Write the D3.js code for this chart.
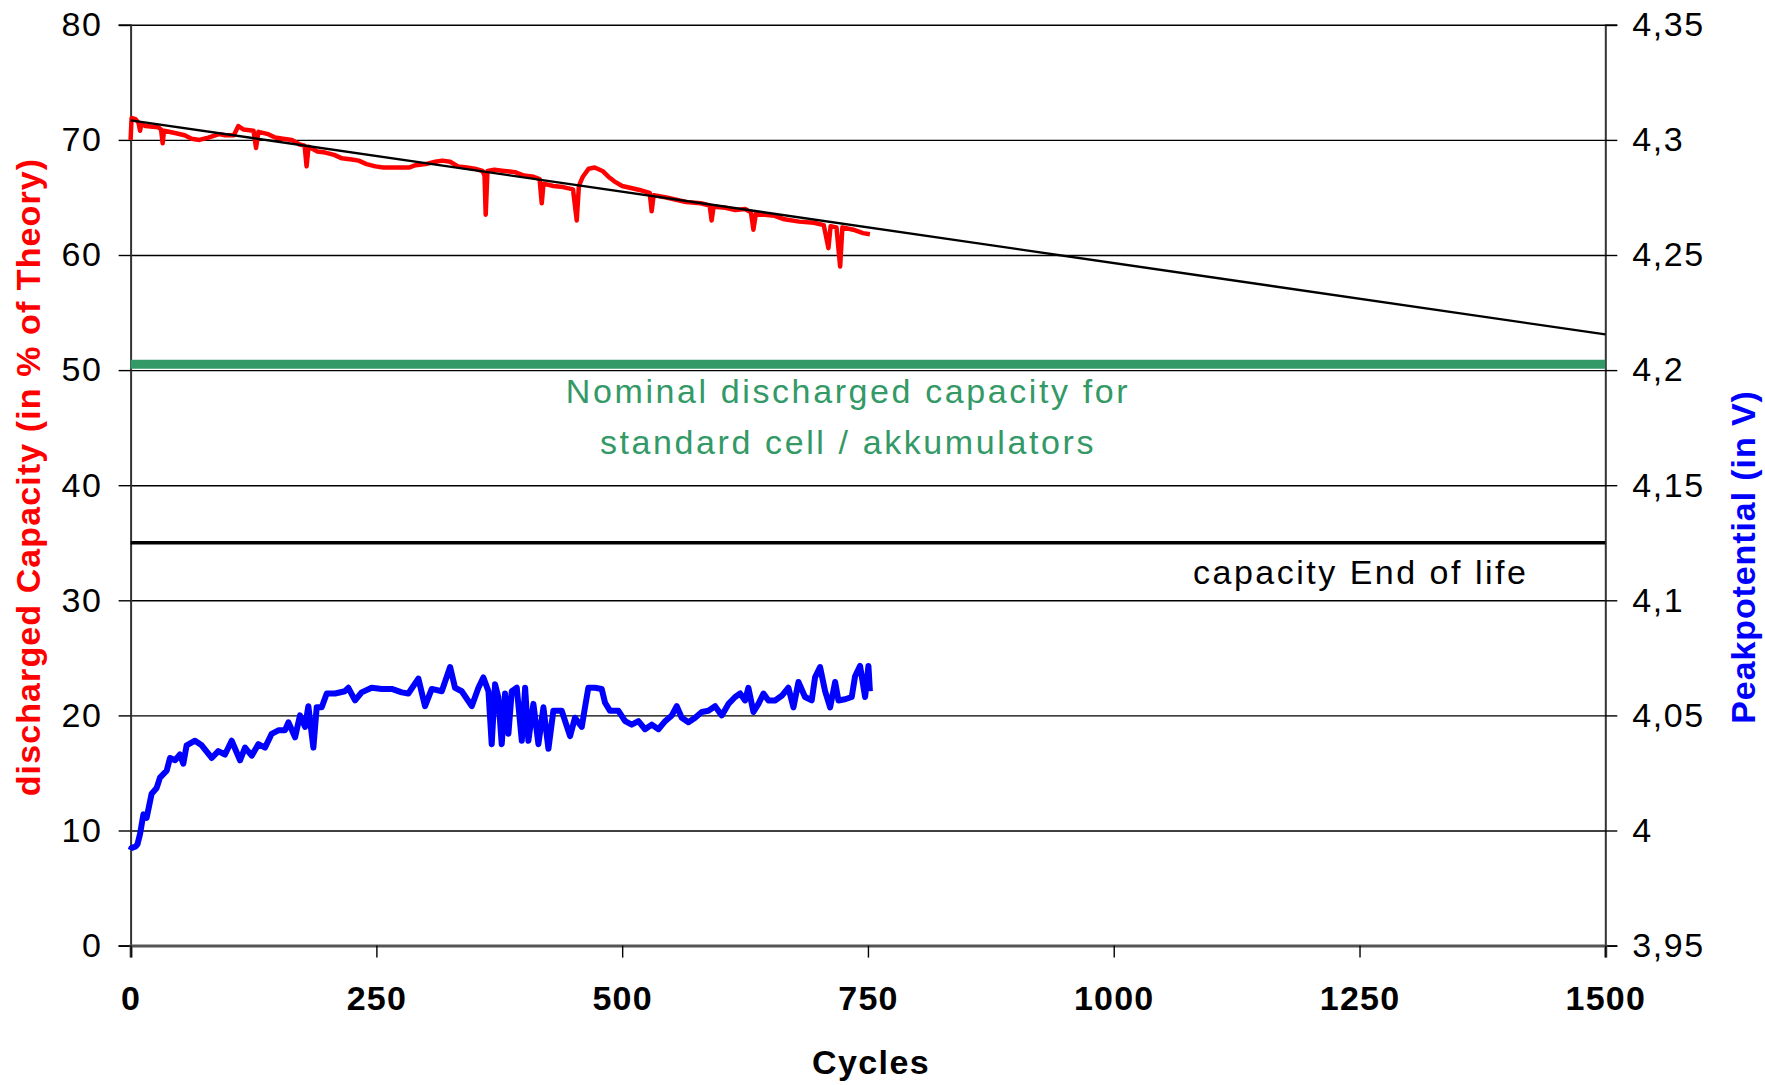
<!DOCTYPE html>
<html>
<head>
<meta charset="utf-8">
<script src="https://cdn.jsdelivr.net/npm/d3@7"></script>
<style>
	body { margin: 0; background: #fff; }
	text { font-family: Arial, 'Liberation Sans', sans-serif; }
</style>
</head>
<body>
<div id="divplot"></div>
<script>
// Cell cycling: discharged capacity and peak potential

const capCycles = [0, 1, 5, 8, 9.6, 11, 15, 28, 31, 32.6, 34, 45, 55, 62, 70, 79, 90, 96, 105, 109.6, 115, 125, 127.6, 130, 140, 147, 155, 164, 172, 177, 179, 181, 190, 198, 207, 215, 225, 232, 240, 249, 257, 266, 275, 283, 290, 300, 310, 317, 325, 333, 342, 350, 358, 360, 361.2, 363, 370, 380, 391, 400, 410, 416, 418.2, 420, 430, 440, 450, 453.8, 456, 460, 466, 472, 480, 486, 492, 500, 510, 520, 528, 530, 532, 545, 555, 565, 580, 589, 591, 593, 605, 615, 625, 631, 633.5, 636, 645, 655, 665, 680, 695, 705, 709.8, 712, 718, 721.7, 724, 735, 745, 752]
const capValues = [70.0, 71.9, 71.8, 71.5, 70.8, 71.4, 71.2, 71.1, 70.9, 69.7, 70.8, 70.6, 70.4, 70.1, 70.0, 70.2, 70.5, 70.4, 70.4, 71.2, 70.9, 70.8, 69.3, 70.7, 70.5, 70.2, 70.1, 70.0, 69.6, 69.5, 67.7, 69.4, 69.0, 68.9, 68.7, 68.4, 68.3, 68.2, 67.9, 67.7, 67.6, 67.6, 67.6, 67.6, 67.8, 67.9, 68.1, 68.2, 68.1, 67.7, 67.6, 67.5, 67.3, 66.9, 63.5, 67.3, 67.4, 67.3, 67.2, 66.9, 66.8, 66.6, 64.5, 66.2, 66.0, 65.9, 65.7, 63.0, 66.0, 66.8, 67.5, 67.6, 67.3, 66.8, 66.4, 66.0, 65.8, 65.6, 65.4, 63.8, 65.2, 65.0, 64.8, 64.6, 64.5, 64.3, 63.0, 64.2, 64.1, 63.9, 64.0, 63.7, 62.2, 63.6, 63.5, 63.4, 63.1, 62.9, 62.8, 62.6, 60.6, 62.5, 62.4, 59.0, 62.4, 62.2, 61.9, 61.8]

const peakCycles = [0, 1, 5, 7, 9.6, 13, 16.3, 21.4, 26.5, 29.9, 36.7, 40.1, 45.2, 50.2, 53.6, 57, 65.5, 72.3, 82.5, 89.2, 96, 102.8, 111.3, 116.4, 123.2, 129.9, 136.7, 143.5, 150.3, 157, 160.5, 167.3, 172.3, 177.4, 180.8, 185.9, 189.3, 194.4, 199.5, 208, 218, 221.5, 228.3, 235, 245.2, 255.4, 265.6, 275.8, 282.5, 292.7, 299.5, 306.3, 316.5, 325, 330, 336.8, 347, 353.8, 358.8, 364, 367.3, 370.7, 374, 377.5, 380.9, 384.3, 387.7, 392.8, 397.9, 401.3, 404.6, 409.7, 414.8, 419.9, 425, 430, 438.5, 447, 452, 458.9, 462.2, 465.6, 472.4, 479.2, 482.6, 487.7, 496.2, 503, 509.7, 516.5, 523.3, 530.1, 536.9, 543.7, 550.5, 555.5, 560.6, 567.4, 574.2, 581, 587.7, 594.5, 601.3, 608.1, 614.9, 620, 625, 628.4, 633.5, 638.6, 643.7, 648.8, 655.5, 662.3, 669.1, 674.2, 679.3, 686, 692.8, 696.2, 701.3, 706.4, 711.5, 716.6, 720, 726.7, 733.5, 736.9, 742, 747.1, 750.5, 752]
const peakValues = [3.9915, 3.9925, 3.993, 3.994, 3.9985, 4.007, 4.0055, 4.016, 4.0185, 4.023, 4.026, 4.0315, 4.0305, 4.033, 4.029, 4.037, 4.039, 4.037, 4.0315, 4.0345, 4.033, 4.039, 4.0305, 4.036, 4.0325, 4.0375, 4.036, 4.042, 4.0435, 4.0435, 4.047, 4.0405, 4.05, 4.045, 4.054, 4.036, 4.0535, 4.0535, 4.0595, 4.0595, 4.0605, 4.062, 4.0565, 4.06, 4.062, 4.0615, 4.0615, 4.06, 4.0595, 4.066, 4.054, 4.0615, 4.0605, 4.071, 4.062, 4.0605, 4.054, 4.062, 4.0665, 4.0605, 4.0375, 4.0635, 4.058, 4.0375, 4.0595, 4.042, 4.0605, 4.062, 4.039, 4.062, 4.039, 4.055, 4.0375, 4.0535, 4.0355, 4.052, 4.052, 4.041, 4.049, 4.045, 4.0535, 4.062, 4.062, 4.0615, 4.0555, 4.052, 4.052, 4.0475, 4.046, 4.0475, 4.044, 4.046, 4.044, 4.0475, 4.05, 4.054, 4.049, 4.047, 4.049, 4.0515, 4.052, 4.054, 4.05, 4.055, 4.058, 4.0595, 4.0565, 4.062, 4.0515, 4.055, 4.0595, 4.0565, 4.0565, 4.0585, 4.062, 4.0535, 4.0645, 4.058, 4.0565, 4.0665, 4.071, 4.0605, 4.0535, 4.0645, 4.0565, 4.057, 4.058, 4.067, 4.0715, 4.058, 4.0715, 4.0605]

// linear trend of capacity, nominal capacity, end-of-life capacity
const trendCycles = [0, 1500]
const trendValues = [71.7, 53.1]
const nominalCapacity = 50.5
const endOfLifeCapacity = 35

const xTicks = [0, 250, 500, 750, 1000, 1250, 1500]
const leftTicks = [0, 10, 20, 30, 40, 50, 60, 70, 80]
const rightTicks = [3.95, 4.0, 4.05, 4.1, 4.15, 4.2, 4.25, 4.3, 4.35]
const rightTickLabels = ['3,95', '4', '4,05', '4,1', '4,15', '4,2', '4,25', '4,3', '4,35']

const plot = () => {

	let width = 1765
	let height = 1085
	let margin = { left: 130.6, right: 159.7, top: 24.8, bottom: 139.4 }

	let xScale = d3.scaleLinear()
		.domain([0, 1500])
		.range([margin.left, width - margin.right])

	let yLeft = d3.scaleLinear()
		.domain([0, 80])
		.range([height - margin.bottom, margin.top])

	let yRight = d3.scaleLinear()
		.domain([3.95, 4.35])
		.range([height - margin.bottom, margin.top])

	let svg = d3.select('#divplot')
		.append('svg')
		.attr('width', width)
		.attr('height', height)

	// gridlines
	svg.append('g')
		.attr('transform', `translate(${margin.left},0)`)
		.call(d3.axisLeft(yLeft).tickValues(leftTicks).tickSize(-(width - margin.left - margin.right)).tickFormat(''))
		.call(g => g.select('.domain').remove())
		.call(g => g.selectAll('line').attr('stroke', '#000').attr('stroke-width', 1.4))

	// left axis
	let left = svg.append('g')
		.attr('transform', `translate(${margin.left},0)`)
		.call(d3.axisLeft(yLeft).tickValues(leftTicks).tickSize(12).tickPadding(16))
	left.select('.domain').attr('stroke', '#333').attr('stroke-width', 2)
	left.selectAll('line').attr('stroke', '#000').attr('stroke-width', 1.4)
	left.selectAll('text')
		.attr('fill', '#000')
		.attr('style', 'font-size: 34px; letter-spacing: 1.6px')

	// right axis
	let right = svg.append('g')
		.attr('transform', `translate(${width - margin.right},0)`)
		.call(d3.axisRight(yRight).tickValues(rightTicks).tickSize(12).tickPadding(15)
			.tickFormat((d, i) => { return rightTickLabels[i] }))
	right.select('.domain').attr('stroke', '#333').attr('stroke-width', 2)
	right.selectAll('line').attr('stroke', '#000').attr('stroke-width', 1.4)
	right.selectAll('text')
		.attr('fill', '#000')
		.attr('style', 'font-size: 34px; letter-spacing: 1.6px')

	// bottom axis
	let bottom = svg.append('g')
		.attr('transform', `translate(0,${height - margin.bottom})`)
		.call(d3.axisBottom(xScale).tickValues(xTicks).tickSize(12).tickPadding(28)
			.tickFormat(d => { return String(d) }))
	bottom.select('.domain').attr('stroke', '#555').attr('stroke-width', 3)
	bottom.selectAll('line').attr('stroke', '#000').attr('stroke-width', 1.4)
	bottom.selectAll('text')
		.attr('fill', '#000')
		.attr('style', 'font-size: 34px; font-weight: bold; letter-spacing: 1.2px')

	// nominal capacity band
	svg.append('line')
		.attr('x1', xScale(0))
		.attr('x2', xScale(1500))
		.attr('y1', yLeft(nominalCapacity))
		.attr('y2', yLeft(nominalCapacity))
		.attr('stroke', '#339966')
		.attr('stroke-width', 9)

	// end of life
	svg.append('line')
		.attr('x1', xScale(0))
		.attr('x2', xScale(1500))
		.attr('y1', yLeft(endOfLifeCapacity))
		.attr('y2', yLeft(endOfLifeCapacity))
		.attr('stroke', '#000')
		.attr('stroke-width', 3.5)

	let capLine = d3.line()
		.x((d, i) => { return xScale(capCycles[i]) })
		.y(d => { return yLeft(d) })

	svg.append('path')
		.datum(capValues)
		.attr('d', capLine)
		.attr('fill', 'none')
		.attr('stroke', '#ff0000')
		.attr('stroke-width', 4.5)
		.attr('stroke-linejoin', 'round')

	let peakLine = d3.line()
		.x((d, i) => { return xScale(peakCycles[i]) })
		.y(d => { return yRight(d) })

	svg.append('path')
		.datum(peakValues)
		.attr('d', peakLine)
		.attr('fill', 'none')
		.attr('stroke', '#0000ff')
		.attr('stroke-width', 6)
		.attr('stroke-linejoin', 'round')

	let trendLine = d3.line()
		.x((d, i) => { return xScale(trendCycles[i]) })
		.y(d => { return yLeft(d) })

	svg.append('path')
		.datum(trendValues)
		.attr('d', trendLine)
		.attr('fill', 'none')
		.attr('stroke', '#000')
		.attr('stroke-width', 2.4)

	// annotations
	svg.append('text')
		.attr('x', 848)
		.attr('y', 403)
		.attr('text-anchor', 'middle')
		.attr('fill', '#339966')
		.attr('style', 'font-size: 34px; letter-spacing: 2.6px')
		.text('Nominal discharged capacity for')

	svg.append('text')
		.attr('x', 848)
		.attr('y', 454)
		.attr('text-anchor', 'middle')
		.attr('fill', '#339966')
		.attr('style', 'font-size: 34px; letter-spacing: 2.6px')
		.text('standard cell / akkumulators')

	svg.append('text')
		.attr('x', 1193)
		.attr('y', 584)
		.attr('fill', '#000')
		.attr('style', 'font-size: 34px; letter-spacing: 2.5px')
		.text('capacity End of life')

	// axis titles
	svg.append('text')
		.attr('x', 871)
		.attr('y', 1074)
		.attr('text-anchor', 'middle')
		.attr('fill', '#000')
		.attr('style', 'font-size: 34px; font-weight: bold; letter-spacing: 1.4px')
		.text('Cycles')

	svg.append('text')
		.attr('transform', 'translate(40,477) rotate(-90)')
		.attr('text-anchor', 'middle')
		.attr('fill', '#ff0000')
		.attr('style', 'font-size: 34px; font-weight: bold; letter-spacing: 1.1px')
		.text('discharged Capacity (in % of Theory)')

	svg.append('text')
		.attr('transform', 'translate(1755,557) rotate(-90)')
		.attr('text-anchor', 'middle')
		.attr('fill', '#0000ff')
		.attr('style', 'font-size: 34px; font-weight: bold; letter-spacing: 0.9px')
		.text('Peakpotential (in V)')
}

plot()
</script>
</body>
</html>
